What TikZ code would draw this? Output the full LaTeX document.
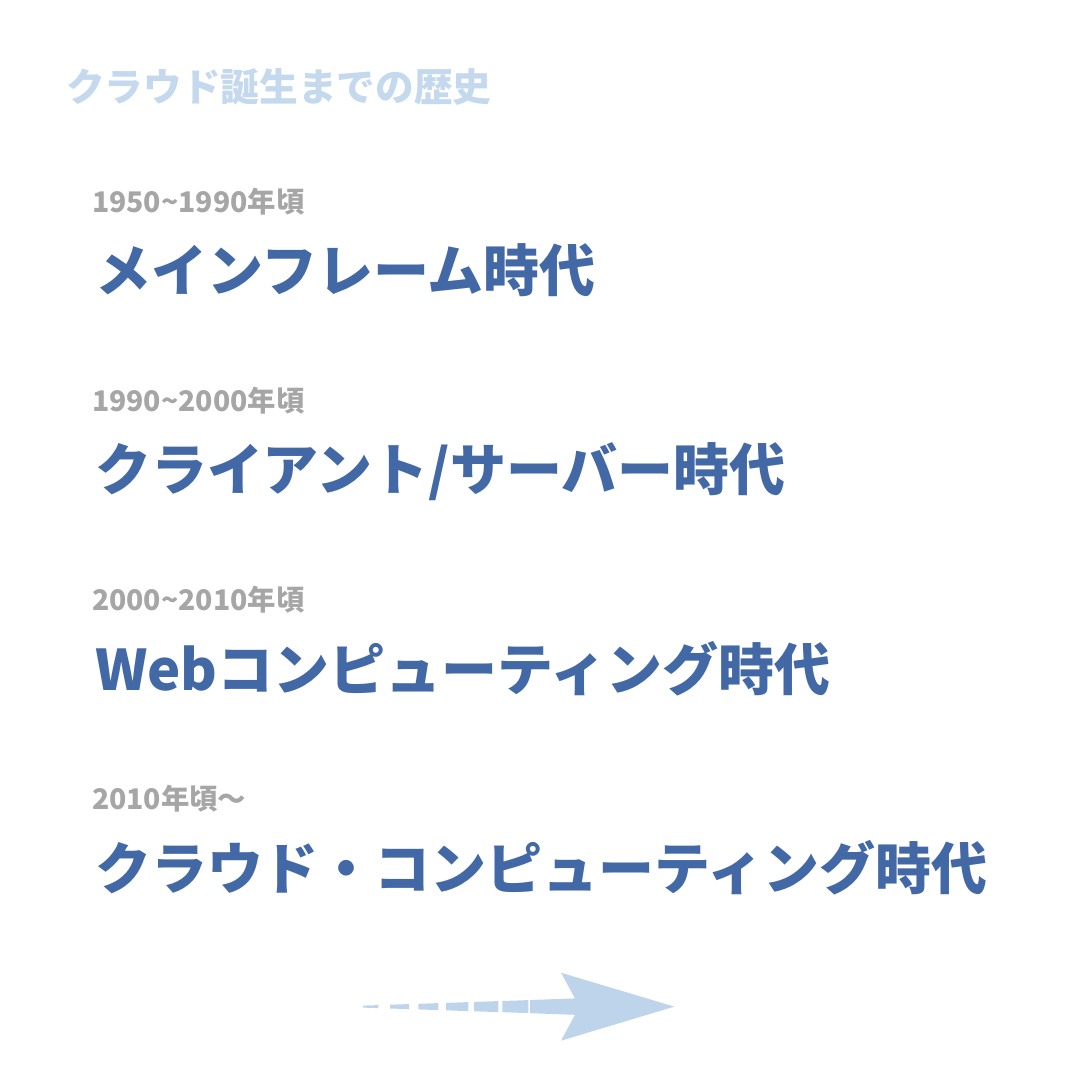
\documentclass[tikz,border=0pt]{standalone}
\usepackage{fontspec}
\newfontfamily\jp{Noto Sans CJK JP}
\definecolor{headblue}{HTML}{4268A6}
\definecolor{titleblue}{HTML}{C5D9EE}
\definecolor{yeargray}{HTML}{A6A6A6}
\definecolor{arrowblue}{HTML}{BED4EB}
\tikzset{
  txt/.style={inner sep=0pt, outer sep=0pt, anchor=base west},
  titletxt/.style={txt, text=titleblue, font=\jp\bfseries\fontsize{38.7}{40}\selectfont},
  yeartxt/.style={txt, text=yeargray, font=\jp\bfseries\fontsize{28.4}{30}\selectfont},
  eratxt/.style={txt, text=headblue, font=\jp\bfseries\fontsize{56}{60}\selectfont},
  seg/.style={fill=arrowblue, draw=none}
}
\begin{document}
\begin{tikzpicture}[x=1pt,y=-1pt]
\useasboundingbox (0,0) rectangle (1080,1080);
\node[titletxt] (title) at (66,101) {クラウド誕生までの歴史};
\node[yeartxt] (y1) at (92,212) {1950\string~1990年頃};
\node[eratxt] (e1) at (95,291) {メインフレーム時代};
\node[yeartxt] (y2) at (92,411) {1990\string~2000年頃};
\node[eratxt] (e2) at (95,490) {クライアント/サーバー時代};
\node[yeartxt] (y3) at (92,610) {2000\string~2010年頃};
\node[eratxt] (e3) at (95,690) {Webコンピューティング時代};
\node[yeartxt] (y4) at (92,809) {2010年頃〜};
\node[eratxt] (e4) at (95,889) {クラウド・コンピューティング時代};
% tapered dashed arrow
\def\cy{1006.6}
\fill[seg] (363,\cy-1) -- (378.3,\cy-1.5) -- (378.3,\cy+1.5) -- (363,\cy+1) -- cycle;
\fill[seg] (390,\cy-1.9) -- (409,\cy-2.5) -- (409,\cy+2.5) -- (390,\cy+1.9) -- cycle;
\fill[seg] (418.3,\cy-2.8) -- (438.3,\cy-3.5) -- (438.3,\cy+3.5) -- (418.3,\cy+2.8) -- cycle;
\fill[seg] (446,\cy-3.7) -- (468.3,\cy-4.5) -- (468.3,\cy+4.5) -- (446,\cy+3.7) -- cycle;
\fill[seg] (474,\cy-4.7) -- (498.3,\cy-5.5) -- (498.3,\cy+5.5) -- (474,\cy+4.7) -- cycle;
\fill[seg] (502.3,\cy-5.6) -- (528.3,\cy-6.5) -- (528.3,\cy+6.5) -- (502.3,\cy+5.6) -- cycle;
\fill[seg] (530,\cy-6.6) -- (575,\cy-8.2) -- (561,972.7) -- (674.3,\cy) -- (561,1040.7) -- (575,\cy+8.2) -- (530,\cy+6.6) -- cycle;
\end{tikzpicture}
\end{document}
